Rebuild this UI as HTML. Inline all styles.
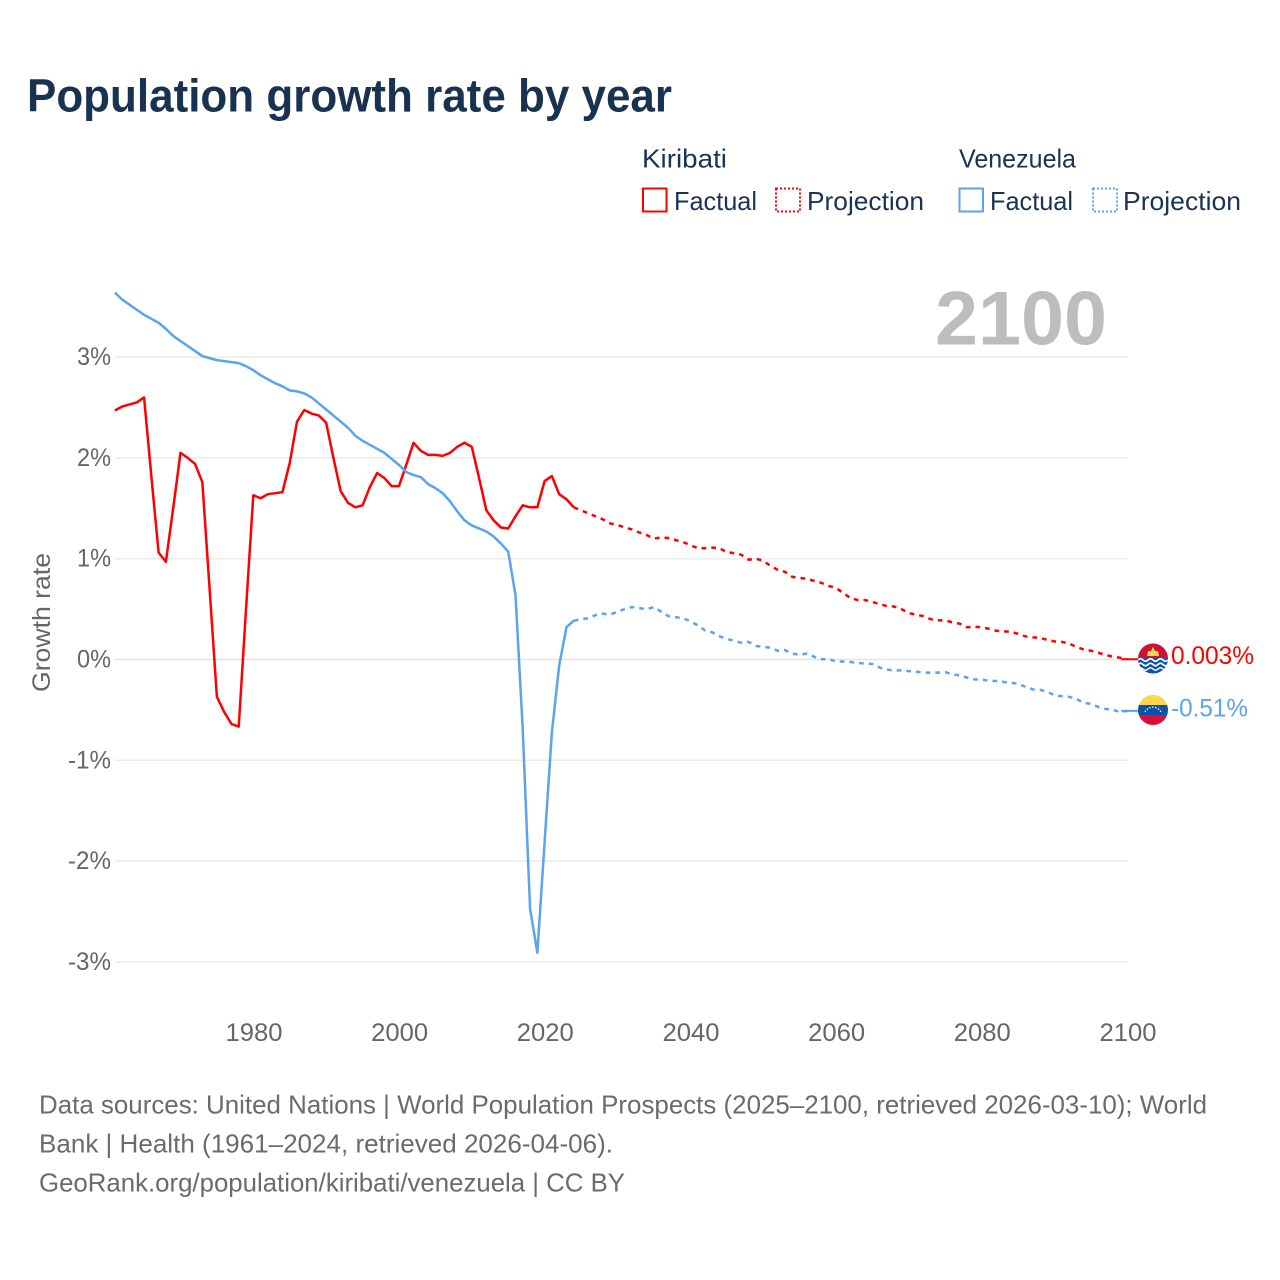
<!DOCTYPE html>
<html lang="en">
<head>
<meta charset="utf-8">
<title>Population growth rate by year</title>
<style>
html,body{margin:0;padding:0;background:#fff;}
svg{display:block;font-family:"Liberation Sans",sans-serif;}
</style>
</head>
<body>
<svg id="chart" xmlns="http://www.w3.org/2000/svg" width="1280" height="1280" viewBox="0 0 1280 1280">
  <rect x="0" y="0" width="1280" height="1280" fill="#ffffff"/>
  <text x="27" y="111.500" font-size="46" font-weight="700" fill="#18324f" textLength="645" lengthAdjust="spacingAndGlyphs">Population growth rate by year</text>

  <g font-size="26" fill="#1a3355">
    <text x="642" y="167.500" textLength="85" lengthAdjust="spacingAndGlyphs">Kiribati</text>
    <text x="959" y="167.500" textLength="117" lengthAdjust="spacingAndGlyphs">Venezuela</text>
    <rect x="643" y="188.500" width="23.500" height="23" fill="none" stroke="#ff0000" stroke-width="2"/>
    <text x="674" y="210" textLength="83" lengthAdjust="spacingAndGlyphs">Factual</text>
    <rect x="776" y="188.500" width="24" height="23" fill="none" stroke="#ff0000" stroke-width="2" stroke-dasharray="2 2"/>
    <text x="807" y="210" textLength="117" lengthAdjust="spacingAndGlyphs">Projection</text>
    <rect x="959.500" y="188.500" width="23.500" height="23" fill="none" stroke="#5ba3ec" stroke-width="2"/>
    <text x="990" y="210" textLength="83" lengthAdjust="spacingAndGlyphs">Factual</text>
    <rect x="1093" y="188.500" width="24" height="23" fill="none" stroke="#5ba3ec" stroke-width="2" stroke-dasharray="2 2"/>
    <text x="1123" y="210" textLength="118" lengthAdjust="spacingAndGlyphs">Projection</text>
  </g>

  <g id="grid"></g>
  <text x="935" y="344.500" font-size="76" font-weight="700" fill="#bdbdbd" textLength="172" lengthAdjust="spacingAndGlyphs">2100</text>
  <g id="yticks" font-size="25" fill="#666666"></g>
  <g id="xticks" font-size="25" fill="#666666"></g>
  <text transform="translate(50 692) rotate(-90)" font-size="25" fill="#666666" textLength="139" lengthAdjust="spacingAndGlyphs">Growth rate</text>
  <g id="series"></g>

  <defs>
    <clipPath id="flag-clip-k"><circle cx="1153" cy="658.500" r="15"/></clipPath>
    <clipPath id="flag-clip-v"><circle cx="1153" cy="710" r="15"/></clipPath>
  </defs>
  <g id="flag-k" clip-path="url(#flag-clip-k)">
    <rect x="1138" y="643" width="30" height="30" fill="#ce1237"/>
    <polygon points="1153,647 1155,651 1158,651 1159,656 1147,656 1148,651 1151,651" fill="#ffd34d"/>
    <rect x="1138" y="658" width="30" height="16" fill="#0f52a8"/>
    <path d="M1138 660 q2.500 -2.500 5 0 t5 0 t5 0 t5 0 t5 0 t5 0" fill="none" stroke="#ffffff" stroke-width="1.700"/>
    <path d="M1138 664.500 q2.500 -2.500 5 0 t5 0 t5 0 t5 0 t5 0 t5 0" fill="none" stroke="#ffffff" stroke-width="1.700"/>
    <path d="M1138 669 q2.500 -2.500 5 0 t5 0 t5 0 t5 0 t5 0 t5 0" fill="none" stroke="#ffffff" stroke-width="1.500"/>
  </g>
  <g id="flag-v" clip-path="url(#flag-clip-v)">
    <rect x="1138" y="695" width="30" height="10" fill="#ffd44f"/>
    <rect x="1138" y="705" width="30" height="10" fill="#0b52a5"/>
    <rect x="1138" y="715" width="30" height="10" fill="#d80f3a"/>
    <path d="M1145 712 A9 9 0 0 1 1161 712" fill="none" stroke="#ffffff" stroke-width="1.200" stroke-dasharray="1.500 1.500"/>
  </g>
  <text id="end-label-k" x="1171" y="664" font-size="25" fill="#ff0000" textLength="83" lengthAdjust="spacingAndGlyphs">0.003%</text>
  <text id="end-label-v" x="1171" y="716.500" font-size="25" fill="#5ba3ec" textLength="77" lengthAdjust="spacingAndGlyphs">-0.51%</text>

  <g font-size="26" fill="#6b6b6b">
    <text x="39" y="1113.500" textLength="1168" lengthAdjust="spacingAndGlyphs">Data sources: United Nations | World Population Prospects (2025–2100, retrieved 2026-03-10); World</text>
    <text x="39" y="1152.500" textLength="574" lengthAdjust="spacingAndGlyphs">Bank | Health (1961–2024, retrieved 2026-04-06).</text>
    <text x="39" y="1191.500" textLength="586" lengthAdjust="spacingAndGlyphs">GeoRank.org/population/kiribati/venezuela | CC BY</text>
  </g>
</svg>
<script>
const factualStartYear = 1961;
const projectionStartYear = 2024;
const kiribatiFactual = [
  2.47,2.51,2.53,2.55,2.60,1.82,1.06,0.97,1.50,2.05,
  2.00,1.94,1.76,0.70,-0.37,-0.52,-0.64,-0.665,0.50,1.63,
  1.60,1.64,1.65,1.66,1.95,2.36,2.475,2.44,2.42,2.35,
  2.00,1.67,1.555,1.51,1.53,1.71,1.85,1.80,1.72,1.72,
  1.93,2.15,2.07,2.03,2.03,2.02,2.05,2.11,2.15,2.11,
  1.80,1.48,1.38,1.31,1.30,1.42,1.53,1.51,1.51,1.77,
  1.82,1.64,1.59,1.51
];
const venezuelaFactual = [
  3.64,3.57,3.52,3.47,3.42,3.38,3.34,3.28,3.21,3.16,
  3.11,3.06,3.01,2.99,2.97,2.96,2.95,2.94,2.91,2.87,
  2.82,2.78,2.74,2.71,2.67,2.66,2.64,2.60,2.54,2.48,
  2.42,2.36,2.30,2.22,2.17,2.13,2.09,2.05,1.99,1.93,
  1.86,1.83,1.81,1.74,1.70,1.65,1.57,1.47,1.38,1.33,
  1.30,1.27,1.22,1.15,1.07,0.64,-0.70,-2.47,-2.91,-1.81,
  -0.72,-0.06,0.32,0.385
];
const kiribatiProjection = [
  1.51,1.48,1.45,1.42,1.39,1.35,1.335,1.31,1.29,1.26,
  1.235,1.20,1.21,1.205,1.185,1.165,1.135,1.105,1.105,1.11,
  1.105,1.065,1.055,1.04,0.99,1.00,0.98,0.93,0.89,0.87,
  0.82,0.81,0.80,0.78,0.76,0.73,0.71,0.66,0.61,0.59,
  0.59,0.57,0.55,0.53,0.525,0.50,0.46,0.445,0.43,0.40,
  0.39,0.385,0.37,0.355,0.32,0.325,0.32,0.305,0.285,0.28,
  0.275,0.255,0.23,0.22,0.215,0.195,0.18,0.175,0.16,0.125,
  0.10,0.087,0.067,0.047,0.028,0.018,0.003
];
const venezuelaProjection = [
  0.385,0.40,0.41,0.44,0.455,0.445,0.475,0.50,0.52,0.51,
  0.50,0.52,0.475,0.43,0.42,0.41,0.38,0.34,0.29,0.27,
  0.23,0.205,0.185,0.167,0.175,0.135,0.125,0.118,0.087,0.094,
  0.058,0.048,0.058,0.028,0.002,0.005,-0.02,-0.02,-0.025,-0.035,
  -0.04,-0.045,-0.08,-0.10,-0.11,-0.107,-0.115,-0.12,-0.13,-0.13,
  -0.13,-0.125,-0.147,-0.157,-0.18,-0.197,-0.20,-0.21,-0.213,-0.223,
  -0.23,-0.24,-0.27,-0.296,-0.30,-0.32,-0.355,-0.365,-0.37,-0.39,
  -0.43,-0.44,-0.47,-0.49,-0.50,-0.52,-0.51
];
const yTickValues = [3,2,1,0,-1,-2,-3];
const yTickLabels = ["3%","2%","1%","0%","-1%","-2%","-3%"];
const xTickValues = [1980,2000,2020,2040,2060,2080,2100];
const xTickLabels = ["1980","2000","2020","2040","2060","2080","2100"];

const NS = "http://www.w3.org/2000/svg";
function xScale(year){ return 253.3 + (year - 1980) * 7.283; }
function yScale(v){ return 659.5 - v * 100.8; }
function make(tag, parentId){
  const el = document.createElementNS(NS, tag);
  document.getElementById(parentId).appendChild(el);
  return el;
}
function pathFrom(values, startYear){
  return values.map(function(v, i){
    return (i ? "L" : "M") + xScale(startYear + i).toFixed(2) + " " + yScale(v).toFixed(2);
  }).join(" ");
}

yTickValues.forEach(function(v, i){
  const line = make("line", "grid");
  
  
  line.setAttribute("x1", 115);
  line.setAttribute("x2", 1128);
  line.setAttribute("y1", yScale(v));
  line.setAttribute("y2", yScale(v));
  line.setAttribute("stroke", v === 0 ? "#e4e4e4" : "#ebebeb");
  line.setAttribute("stroke-width", 1.5);

  const label = make("text", "yticks");
  
  
  label.setAttribute("x", 111);
  label.setAttribute("y", yScale(v) + 8);
  label.setAttribute("text-anchor", "end");
  label.setAttribute("textLength", yTickLabels[i].length === 3 ? 43 : 34);
  label.setAttribute("lengthAdjust", "spacingAndGlyphs");
  label.textContent = yTickLabels[i];
});

xTickValues.forEach(function(yr, i){
  const label = make("text", "xticks");
  
  
  label.setAttribute("x", xScale(yr) + 0.7);
  label.setAttribute("y", 1041);
  label.setAttribute("text-anchor", "middle");
  label.setAttribute("textLength", 57);
  label.setAttribute("lengthAdjust", "spacingAndGlyphs");
  label.textContent = xTickLabels[i];
});

function drawLine(values, startYear, color, dashed, name){
  const p = make("path", "series");
  
  
  p.setAttribute("d", pathFrom(values, startYear));
  p.setAttribute("fill", "none");
  p.setAttribute("stroke", color);
  p.setAttribute("stroke-width", 2.5);
  p.setAttribute("stroke-linejoin", "round");
  if (dashed) p.setAttribute("stroke-dasharray", "4.7 5");
}
function drawConnector(lastValue, color, name){
  const c = make("line", "series");
  
  
  c.setAttribute("x1", xScale(2100) - 6);
  c.setAttribute("x2", 1140);
  c.setAttribute("y1", yScale(lastValue));
  c.setAttribute("y2", yScale(lastValue));
  c.setAttribute("stroke", color);
  c.setAttribute("stroke-width", 2);
}
const RED = "#ff0000";
const BLUE = "#5ba3ec";
drawLine(kiribatiFactual, factualStartYear, RED, false, "kiribati-factual-line");
drawLine(kiribatiProjection, projectionStartYear, RED, true, "kiribati-projection-line");
drawLine(venezuelaFactual, factualStartYear, BLUE, false, "venezuela-factual-line");
drawLine(venezuelaProjection, projectionStartYear, BLUE, true, "venezuela-projection-line");
drawConnector(kiribatiProjection[kiribatiProjection.length - 1], RED, "kiribati-end-connector");
drawConnector(venezuelaProjection[venezuelaProjection.length - 1], BLUE, "venezuela-end-connector");
</script>
</body>
</html>
